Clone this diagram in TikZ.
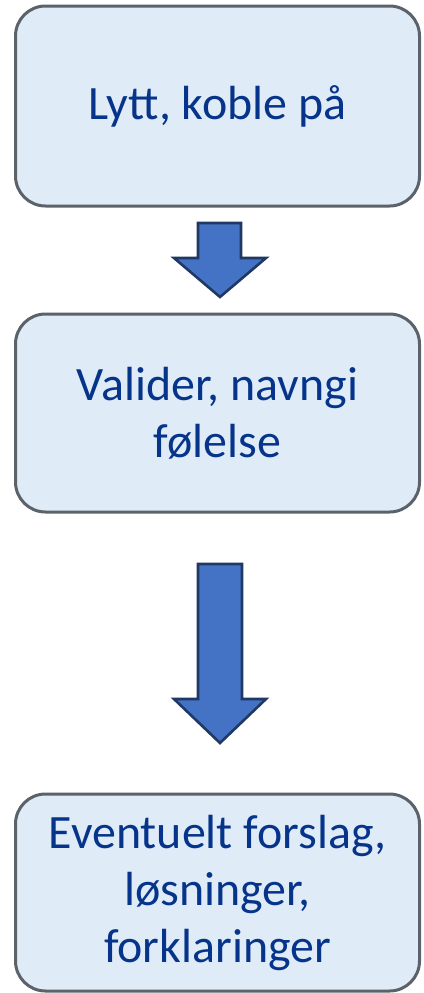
\documentclass[tikz,border=0pt]{standalone}
\usepackage{fontspec}
\setmainfont{Carlito}
\definecolor{boxfill}{HTML}{DFEBF7}
\definecolor{boxdraw}{HTML}{5C626A}
\definecolor{txt}{HTML}{06348A}
\definecolor{arrfill}{HTML}{4472C4}
\definecolor{arrdraw}{HTML}{1F3864}
\begin{document}
\begin{tikzpicture}[x=1pt,y=-1pt,
  box/.style={draw=boxdraw, fill=boxfill, line width=3pt, rounded corners=30pt,
    minimum width=404pt, align=center, text=txt, inner sep=0pt,
    font=\fontsize{47.9}{57}\selectfont},
  blockarrow/.style={draw=arrdraw, fill=arrfill, line width=2.6pt, line join=miter}]
\useasboundingbox (0,0) rectangle (423,993);
\node[box, minimum height=200pt] (b1) at (217.5,106) {Lytt, koble på};
\node[box, minimum height=198pt] (b2) at (217.5,413) {Valider, navngi\\følelse};
\node[box, minimum height=197pt] (b3) at (217.5,892.5) {Eventuelt forslag,\\løsninger,\\forklaringer};
% block arrows
\draw[blockarrow] (198,223) -- (241,223) -- (241,258) -- (266,258) -- (220,297) -- (174,258) -- (198,258) -- cycle;
\draw[blockarrow] (198,564) -- (242,564) -- (242,699) -- (266,699) -- (220,743) -- (174,699) -- (198,699) -- cycle;
\end{tikzpicture}
\end{document}
